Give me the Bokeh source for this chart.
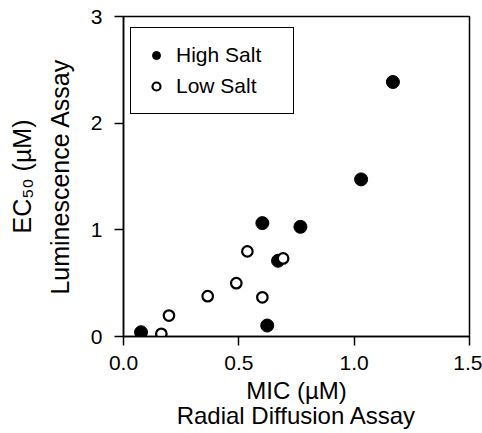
from bokeh.plotting import figure
from bokeh.models import Range1d, FixedTicker, Legend, LegendItem, NumeralTickFormatter
from bokeh.embed import file_html
from bokeh.resources import INLINE

# ---- data ----
series_names = ["High Salt", "Low Salt"]
high_x = [0.076, 0.602, 0.767, 0.670, 0.623, 1.030, 1.168]
high_y = [0.040, 1.063, 1.028, 0.710, 0.103, 1.473, 2.386]
low_x = [0.164, 0.197, 0.365, 0.489, 0.537, 0.602, 0.692]
low_y = [0.025, 0.196, 0.378, 0.500, 0.798, 0.367, 0.732]
x_ticks = [0.0, 0.5, 1.0, 1.5]
y_ticks = [0, 1, 2, 3]
x_label_lines = ["MIC (\u00b5M)", "Radial Diffusion Assay"]
y_label_lines = ["EC\u2085\u2080 (\u00b5M)", "Luminescence Assay"]

FONT = "Liberation Sans"
W, H = 482, 433
FL, FR, FT, FB = 123, 13, 16, 97  # frame borders in px

p = figure(width=W, height=H, x_range=Range1d(0, 1.5), y_range=Range1d(0, 3),
           output_backend="svg", toolbar_location=None,
           min_border_left=FL, min_border_right=FR, min_border_top=FT, min_border_bottom=FB)
p.grid.visible = False
p.background_fill_color = "white"
p.border_fill_color = "white"
p.outline_line_color = "black"
p.outline_line_width = 1.5
p.outline_line_alpha = 1.0

for ax in (p.xaxis[0], p.yaxis[0]):
    ax.axis_line_width = 1.5
    ax.axis_line_color = "black"
    ax.major_tick_line_width = 1.5
    ax.major_tick_line_color = "black"
    ax.major_tick_out = 9
    ax.major_tick_in = 0
    ax.minor_tick_out = 0
    ax.minor_tick_in = 0
    ax.major_label_text_font = FONT
    ax.major_label_text_font_size = "21px"
    ax.major_label_text_color = "black"
    ax.axis_label_text_font = FONT
    ax.axis_label_text_font_style = "normal"
    ax.axis_label_text_color = "black"

p.xaxis.ticker = FixedTicker(ticks=x_ticks)
p.xaxis.formatter = NumeralTickFormatter(format="0.0")
p.xaxis.major_label_standoff = 10
p.xaxis.axis_label = "\n".join(x_label_lines)
p.xaxis.axis_label_text_font_size = "24px"
p.xaxis.axis_label_text_line_height = 0.95
p.xaxis.axis_label_standoff = 4

p.yaxis.ticker = FixedTicker(ticks=y_ticks)
p.yaxis.major_label_standoff = 12
p.yaxis.axis_label = "\n".join(y_label_lines)
p.yaxis.axis_label_text_font_size = "25px"
p.yaxis.axis_label_text_line_height = 1.36
p.yaxis.axis_label_standoff = 14

r_high = p.scatter(high_x, high_y, marker="circle", size=13,
                   fill_color="black", line_color="black", line_width=1)
r_low = p.scatter(low_x, low_y, marker="circle", size=10.5,
                  fill_color="white", line_color="black", line_width=2.2)

legend = Legend(items=[LegendItem(label=series_names[0], renderers=[r_high]),
                       LegendItem(label=series_names[1], renderers=[r_low])],
                location=(7, 222), orientation="vertical", padding=15, spacing=7,
                glyph_width=20, glyph_height=24, label_height=24, label_width=102,
                label_standoff=10, margin=0,
                border_line_color="black", border_line_width=1.5, border_line_alpha=1.0,
                background_fill_color="white", background_fill_alpha=1.0,
                label_text_font=FONT, label_text_font_size="21px", label_text_color="black")
p.add_layout(legend)

open("out.html", "w").write(file_html(p, INLINE))
